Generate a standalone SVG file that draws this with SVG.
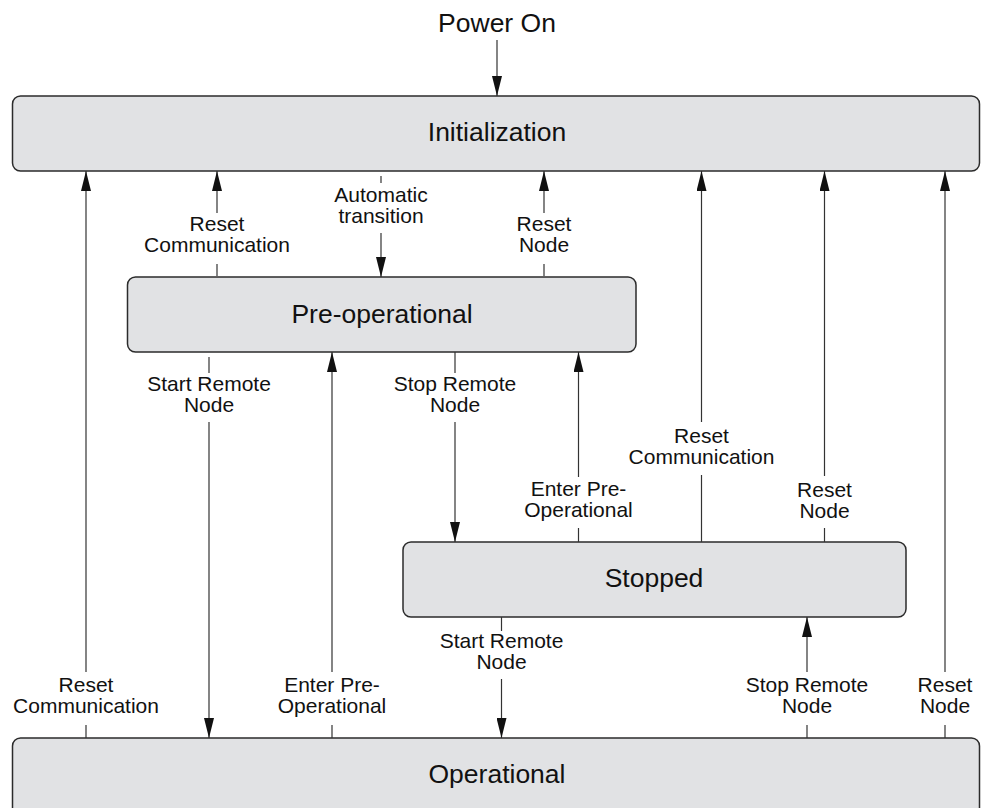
<svg xmlns="http://www.w3.org/2000/svg" width="982" height="808" viewBox="0 0 982 808">
<defs>
<marker id="arr" viewBox="0 0 20 10" markerWidth="20" markerHeight="10" refX="20" refY="5" orient="auto" markerUnits="userSpaceOnUse">
<path d="M0,0 L20,5 L0,10 z" fill="#111"/>
</marker>
<style>
.state{fill:#e1e2e4;stroke:#2b2b2b;stroke-width:1.5}
.st{font-family:"Liberation Sans",Arial,sans-serif;font-size:26.5px;fill:#111;text-anchor:middle}
.lb{font-family:"Liberation Sans",Arial,sans-serif;font-size:21px;fill:#111;text-anchor:middle}
.ln{stroke:#333;stroke-width:1.2;fill:none}
.ar{stroke:#333;stroke-width:1.2;fill:none;marker-end:url(#arr)}
</style>
</defs>
<rect width="982" height="808" fill="#fff"/>
<g id="power-on">
<text class="st" x="497" y="32">Power On</text>
</g>
<g id="initialization">
<rect class="state" x="12.5" y="96" width="967" height="75" rx="8"/>
<text class="st" x="497" y="141">Initialization</text>
</g>
<g id="pre-operational">
<rect class="state" x="127.5" y="277" width="508.5" height="75" rx="8"/>
<text class="st" x="382" y="323">Pre-operational</text>
</g>
<g id="stopped">
<rect class="state" x="403" y="542" width="503" height="75" rx="8"/>
<text class="st" x="654" y="587">Stopped</text>
</g>
<g id="operational">
<rect class="state" x="12.5" y="738" width="967" height="100" rx="8"/>
<text class="st" x="497" y="783">Operational</text>
</g>
<g id="connectors">
<line class="ar" x1="497" y1="40" x2="497" y2="96"/>
<line class="ln" x1="86" y1="738" x2="86" y2="725"/>
<line class="ar" x1="86" y1="672" x2="86" y2="171"/>
<text class="lb" x="86" y="692">Reset</text>
<text class="lb" x="86" y="713">Communication</text>
<line class="ln" x1="217" y1="276" x2="217" y2="264"/>
<line class="ar" x1="217" y1="213" x2="217" y2="171"/>
<text class="lb" x="217" y="231">Reset</text>
<text class="lb" x="217" y="252">Communication</text>
<line class="ln" x1="381" y1="176" x2="381" y2="183"/>
<line class="ar" x1="381" y1="233" x2="381" y2="277"/>
<text class="lb" x="381" y="202">Automatic</text>
<text class="lb" x="381" y="223">transition</text>
<line class="ln" x1="544" y1="276" x2="544" y2="264"/>
<line class="ar" x1="544" y1="213" x2="544" y2="171"/>
<text class="lb" x="544" y="231">Reset</text>
<text class="lb" x="544" y="252">Node</text>
<line class="ln" x1="209" y1="357" x2="209" y2="373"/>
<line class="ar" x1="209" y1="422" x2="209" y2="738"/>
<text class="lb" x="209" y="391">Start Remote</text>
<text class="lb" x="209" y="412">Node</text>
<line class="ln" x1="332" y1="738" x2="332" y2="725"/>
<line class="ar" x1="332" y1="672" x2="332" y2="352"/>
<text class="lb" x="332" y="692">Enter Pre-</text>
<text class="lb" x="332" y="713">Operational</text>
<line class="ln" x1="455" y1="352" x2="455" y2="373"/>
<line class="ar" x1="455" y1="422" x2="455" y2="542"/>
<text class="lb" x="455" y="391">Stop Remote</text>
<text class="lb" x="455" y="412">Node</text>
<line class="ln" x1="578.5" y1="542" x2="578.5" y2="528"/>
<line class="ar" x1="578.5" y1="477" x2="578.5" y2="352"/>
<text class="lb" x="578.5" y="496">Enter Pre-</text>
<text class="lb" x="578.5" y="517">Operational</text>
<line class="ln" x1="701.5" y1="542" x2="701.5" y2="475"/>
<line class="ar" x1="701.5" y1="422" x2="701.5" y2="171"/>
<text class="lb" x="701.5" y="443">Reset</text>
<text class="lb" x="701.5" y="464">Communication</text>
<line class="ln" x1="824.5" y1="542" x2="824.5" y2="528"/>
<line class="ar" x1="824.5" y1="476" x2="824.5" y2="171"/>
<text class="lb" x="824.5" y="497">Reset</text>
<text class="lb" x="824.5" y="518">Node</text>
<line class="ln" x1="501.5" y1="617" x2="501.5" y2="631"/>
<line class="ar" x1="501.5" y1="679" x2="501.5" y2="738"/>
<text class="lb" x="501.5" y="648">Start Remote</text>
<text class="lb" x="501.5" y="669">Node</text>
<line class="ln" x1="807" y1="738" x2="807" y2="725"/>
<line class="ar" x1="807" y1="672" x2="807" y2="617"/>
<text class="lb" x="807" y="692">Stop Remote</text>
<text class="lb" x="807" y="713">Node</text>
<line class="ln" x1="945" y1="738" x2="945" y2="725"/>
<line class="ar" x1="945" y1="672" x2="945" y2="171"/>
<text class="lb" x="945" y="692">Reset</text>
<text class="lb" x="945" y="713">Node</text>
</g>
</svg>
